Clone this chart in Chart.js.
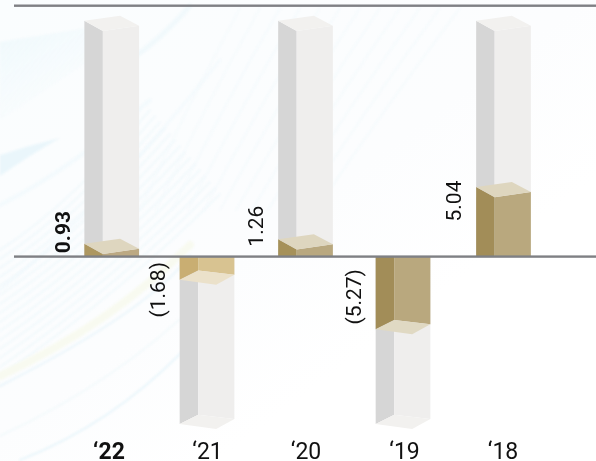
<!DOCTYPE html>
<html>
<head>
<meta charset="utf-8">
<style>
  html, body { margin: 0; padding: 0; background: #fff; }
  #wrap { width: 596px; height: 461px; }
</style>
<script src="https://cdn.jsdelivr.net/npm/chart.js@4"></script>
</head>
<body>
<div id="wrap"><canvas id="returns" width="596" height="461"></canvas></div>
<script>
// Year labels and values
var years = ['‘22', '‘21', '‘20', '‘19', '‘18'];
var values = [0.93, -1.68, 1.26, -5.27, 5.04];
// Full height of the empty columns behind each value
var trackUp = 17.09;
var trackDown = -12.13;

// Small per-bar tweaks, px
var barNudge = [2.7, -0.5, -0.5, -1.5, 0.5];
var labelShift = [-11.7, 10, -13, -32.5, 14];

var trackColors = { side: '#d6d6d6', front: '#efeeed', cap: '#f2f1ef' };
var valueColors = [
  { side: '#ad9760', front: '#bca983', cap: '#ded6bf' },
  { side: '#c9ae72', front: '#d8c391', cap: '#ebe1ca' },
  { side: '#a69159', front: '#b9a87f', cap: '#ded6bf' },
  { side: '#a28d58', front: '#b9a87e', cap: '#e0d9c3' },
  { side: '#a28d58', front: '#b9a87e', cap: '#ded6bf' }
];

var fontFamily = 'Roboto, sans-serif';

function poly(ctx, color, pts) {
  ctx.fillStyle = color;
  ctx.beginPath();
  ctx.moveTo(pts[0][0], pts[0][1]);
  for (var i = 1; i < pts.length; i++) ctx.lineTo(pts[i][0], pts[i][1]);
  ctx.closePath();
  ctx.fill();
}

// One 3D column between the baseline and yEnd, seen from the upper left
function drawPrism(ctx, left, base, yEnd, colors) {
  var sideW = 18.5, w = 54.7;
  var foldX = left + sideW, right = left + w;
  if (yEnd < base) {
    poly(ctx, colors.side, [[left, base], [foldX, base], [foldX, yEnd + 10.3], [left, yEnd]]);
    poly(ctx, colors.front, [[foldX, base], [right, base], [right, yEnd + 5], [foldX, yEnd + 10.3]]);
    poly(ctx, colors.cap, [[left, yEnd], [left + 35.7, yEnd - 5], [right, yEnd + 5], [foldX, yEnd + 10.3]]);
  } else {
    poly(ctx, colors.side, [[left, base], [foldX, base], [foldX, yEnd - 9.3], [left, yEnd]]);
    poly(ctx, colors.front, [[foldX, base], [right, base], [right, yEnd - 5], [foldX, yEnd - 9.3]]);
    poly(ctx, colors.cap, [[left, yEnd], [foldX, yEnd - 9.3], [right, yEnd - 5], [left + 36.5, yEnd + 5]]);
  }
}

// Pale feathered streaks behind the plot
var backdrop = {
  id: 'backdrop',
  beforeDraw: function (chart) {
    var ctx = chart.ctx, W = chart.width, H = chart.height;
    ctx.save();
    var wash = ctx.createLinearGradient(0, 0, 300, 400);
    wash.addColorStop(0, '#fafdfe');
    wash.addColorStop(0.7, '#fcfdfe');
    wash.addColorStop(1, '#ffffff');
    ctx.fillStyle = wash;
    ctx.fillRect(0, 0, W, H);
    ctx.filter = 'blur(0.8px)';

    var top = ctx.createLinearGradient(0, 40, 50, 130);
    top.addColorStop(0, '#f0f9fc');
    top.addColorStop(1, 'rgba(245,251,254,0)');
    ctx.fillStyle = top;
    ctx.beginPath();
    ctx.moveTo(0, 42);
    ctx.lineTo(100, 26);
    ctx.lineTo(90, 60);
    ctx.lineTo(0, 120);
    ctx.closePath();
    ctx.fill();

    ctx.fillStyle = '#eaf6fb';
    ctx.beginPath();
    ctx.moveTo(0, 155);
    ctx.quadraticCurveTo(30, 145, 60, 138);
    ctx.quadraticCurveTo(30, 155, 0, 176);
    ctx.closePath();
    ctx.fill();

    // fan of thin lines rising to the right
    ctx.lineCap = 'round';
    var lines = [
      [0, 205, 70, 170, 150, 100, '#f3fafd', 4],
      [0, 290, 100, 210, 220, 60, '#f4fafd', 3],
      [0, 386, 150, 310, 190, 255, '#ebf6fb', 2],
      [20, 460, 110, 425, 182, 352, '#eaf6fb', 2],
      [0, 436, 120, 380, 200, 300, '#f1f9fc', 1.5],
      [130, 60, 160, 40, 190, 6, '#f1f9fc', 5]
    ];
    lines.forEach(function (l) {
      ctx.strokeStyle = l[6];
      ctx.lineWidth = l[7];
      ctx.beginPath();
      ctx.moveTo(l[0], l[1]);
      ctx.quadraticCurveTo(l[2], l[3], l[4], l[5]);
      ctx.stroke();
    });

    // finer hatching, lower left and across the top
    ctx.lineWidth = 1.5;
    ctx.strokeStyle = '#eff8fc';
    for (var a = 0; a < 15; a++) {
      ctx.beginPath();
      ctx.moveTo(0, 250 + a * 9);
      ctx.quadraticCurveTo(70 + a * 4, 205 + a * 6, 150 + a * 5, 110 + a * 6);
      ctx.stroke();
    }
    ctx.strokeStyle = '#f4fafd';
    for (var b = 0; b < 12; b++) {
      ctx.beginPath();
      ctx.moveTo(140 + b * 16, 210);
      ctx.quadraticCurveTo(185 + b * 18, 110, 240 + b * 20, 8);
      ctx.stroke();
    }

    ctx.strokeStyle = '#f8faf0';
    ctx.lineWidth = 8;
    ctx.beginPath();
    ctx.moveTo(0, 376);
    ctx.quadraticCurveTo(110, 325, 190, 245);
    ctx.stroke();
    ctx.restore();
  }
};

var prisms = {
  id: 'prisms',
  afterDatasetsDraw: function (chart) {
    var ctx = chart.ctx, yScale = chart.scales.y;
    var zero = yScale.getPixelForValue(0);
    var track = chart.getDatasetMeta(0).data;
    var bars = chart.getDatasetMeta(1).data;

    ctx.save();
    bars.forEach(function (bar, i) {
      var left = bar.x - bar.width / 2 + barNudge[i];
      drawPrism(ctx, left, track[i].base, track[i].y, trackColors);
      drawPrism(ctx, left, bar.base, bar.y, valueColors[i]);
    });

    // top rule and zero line run past the plot on both sides
    ctx.fillStyle = '#7f8084';
    ctx.fillRect(14, yScale.top - 1.2, chart.width - 14, 2.4);
    ctx.fillRect(14, zero - 1.2, chart.width - 14, 2.4);

    // rotated value labels
    ctx.fillStyle = '#111';
    ctx.textAlign = 'center';
    ctx.textBaseline = 'middle';
    bars.forEach(function (bar, i) {
      var v = values[i];
      var text = v < 0 ? '(' + Math.abs(v).toFixed(2) + ')' : v.toFixed(2);
      var left = bar.x - bar.width / 2 + barNudge[i];
      ctx.save();
      ctx.translate(left - 20, bar.y + labelShift[i]);
      ctx.rotate(-Math.PI / 2);
      ctx.font = (i === 0 ? '700 ' : '400 ') + '21px ' + fontFamily;
      ctx.fillText(text, 0, 0);
      ctx.restore();
    });
    ctx.restore();
  }
};

new Chart(document.getElementById('returns'), {
  type: 'bar',
  data: {
    labels: years,
    datasets: [
      {
        label: 'Track',
        data: values.map(function (v) { return v < 0 ? trackDown : trackUp; }),
        backgroundColor: 'rgba(0,0,0,0)'
      },
      {
        label: 'Value',
        data: values,
        backgroundColor: 'rgba(0,0,0,0)'
      }
    ]
  },
  options: {
    responsive: false,
    animation: false,
    layout: { padding: { top: 5.7, left: 59.75, right: 43.75, bottom: 0 } },
    datasets: { bar: { grouped: false, categoryPercentage: 1, barPercentage: 0.555 } },
    plugins: { legend: { display: false }, tooltip: { enabled: false } },
    scales: {
      x: {
        grid: { display: false, drawTicks: false },
        border: { display: false },
        afterFit: function (scale) { scale.height = 25; },
        ticks: {
          color: '#111',
          padding: 3,
          maxRotation: 0,
          font: function (c) {
            return { family: fontFamily, size: 23, weight: c.index === 0 ? '700' : '400' };
          }
        }
      },
      y: {
        display: false,
        min: -13,
        max: 18.18
      }
    }
  },
  plugins: [backdrop, prisms]
});
</script>
</body>
</html>
